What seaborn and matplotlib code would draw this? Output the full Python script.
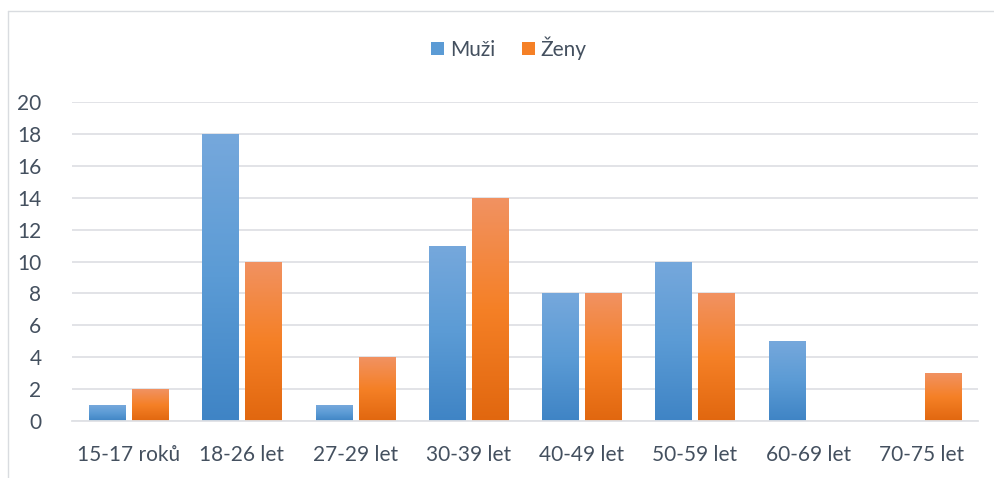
import numpy as np
import pandas as pd
import seaborn as sns
import matplotlib.pyplot as plt
from matplotlib.colors import LinearSegmentedColormap
from matplotlib.patches import Patch
from matplotlib.lines import Line2D

# Data
kategorie = ['15-17 roků', '18-26 let', '27-29 let', '30-39 let',
             '40-49 let', '50-59 let', '60-69 let', '70-75 let']
muzi = [1, 18, 1, 11, 8, 10, 5, 0]
zeny = [2, 10, 4, 14, 8, 8, 0, 3]
serie = ['Muži', 'Ženy']

df = pd.DataFrame({'kategorie': kategorie * 2,
                   'pocet': muzi + zeny,
                   'pohlavi': [serie[0]] * len(kategorie) + [serie[1]] * len(kategorie)})

barvy = {'Muži': '#5b9bd5', 'Ženy': '#f58026'}
# gradient (oben -> unten)
grad = {'Muži': ['#76a8dc', '#5b9bd5', '#3f84c5'],
        'Ženy': ['#f19262', '#f58026', '#e1670f']}

text_c = '#44505f'
sns.set_theme(style='white')
plt.rcParams['font.family'] = ['Lato', 'DejaVu Sans']

fig = plt.figure(figsize=(9.94, 4.78), dpi=100)
ax = fig.add_axes([0.0724, 0.1192, 0.9116, 0.6674])

sns.barplot(data=df, x='kategorie', y='pocet', hue='pohlavi', order=kategorie,
            hue_order=serie, palette=barvy, width=0.76, gap=0.16,
            legend=False, ax=ax)

# gradient ueber jede Saeule legen
for i, p in enumerate(ax.patches):
    h = p.get_height()
    if h <= 0:
        continue
    name = serie[0] if i < len(kategorie) else serie[1]
    cmap = LinearSegmentedColormap.from_list(name, grad[name])
    x0 = p.get_x()
    w = p.get_width()
    p.set_edgecolor('none')
    img = ax.imshow(np.linspace(0, 1, 256).reshape(-1, 1), cmap=cmap,
                    extent=[x0, x0 + w, 0, h], aspect='auto',
                    origin='upper', zorder=p.get_zorder() + 0.1)
    img.set_clip_path(p)

ax.set_xlim(-0.5, len(kategorie) - 0.5)
ax.set_ylim(0, 20)
ax.set_yticks(range(0, 21, 2))
ax.yaxis.grid(True, color='#dfe1e5', linewidth=1.3)
ax.set_axisbelow(True)
for s in ['top', 'right', 'left']:
    ax.spines[s].set_visible(False)
ax.spines['bottom'].set_color('#dfe1e5')
ax.spines['bottom'].set_linewidth(1.3)
ax.tick_params(axis='both', length=0, labelsize=15, labelcolor=text_c)
ax.tick_params(axis='x', pad=17)
# y-Beschriftung rechtsbuendig bei x = 50 px
for lab in ax.get_yticklabels():
    lab.set_horizontalalignment('right')
ax.tick_params(axis='y', pad=22)
ax.set_xlabel('')
ax.set_ylabel('')

handles = [Patch(facecolor=barvy[s], edgecolor='none', label=s) for s in serie]
fig.legend(handles=handles, loc='center', bbox_to_anchor=(0.512, 0.9), ncol=2,
           frameon=False, fontsize=15, labelcolor=text_c, handlelength=0.6,
           handleheight=0.6, handletextpad=0.3, columnspacing=1.3)

# Rahmen
fig.add_artist(Line2D([8 / 994, 1], [1 - 11 / 478] * 2, color='#d9dce0', linewidth=1))
fig.add_artist(Line2D([8 / 994] * 2, [0, 1 - 11 / 478], color='#d9dce0', linewidth=1))

fig.savefig('out.png', dpi=100, facecolor='white')
